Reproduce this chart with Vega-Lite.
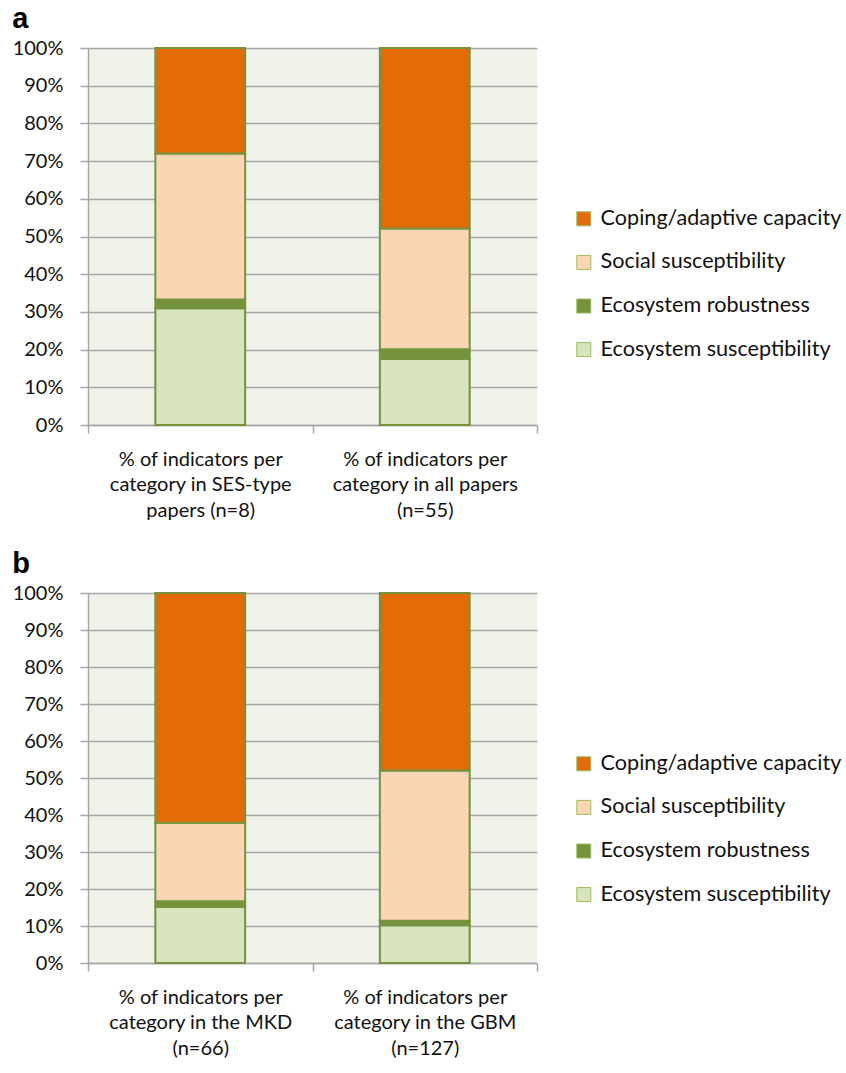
{
  "$schema": "https://vega.github.io/schema/vega-lite/v6.json",
  "background": "white",
  "padding": {"left": 12, "top": 5, "right": 0, "bottom": 0},
  "spacing": 30,
  "config": {
    "font": "Lato",
    "view": {"fill": "#eff2e9", "stroke": null},
    "title": {"font": "Liberation Sans", "fontSize": 29, "fontWeight": "bold", "anchor": "start", "frame": "bounds", "color": "black", "offset": 0},
    "axis": {"labelFont": "Lato", "labelFontSize": 20, "labelColor": "#111", "domainColor": "#a6a6a6", "tickColor": "#a6a6a6", "gridColor": "#a6a6a6", "domainWidth": 1.5, "tickWidth": 1.5, "gridWidth": 1.5},
    "legend": {"labelFont": "Lato", "labelFontSize": 21.6, "labelColor": "#111", "padding": 0, "labelLimit": 0}
  },
  "datasets": {
    "a": [
      {"x": "% of indicators per|category in SES-type|papers (n=8)", "cat": "Ecosystem susceptibility", "v": 31.0, "o": 1},
      {"x": "% of indicators per|category in SES-type|papers (n=8)", "cat": "Ecosystem robustness", "v": 2.3, "o": 2},
      {"x": "% of indicators per|category in SES-type|papers (n=8)", "cat": "Social susceptibility", "v": 38.7, "o": 3},
      {"x": "% of indicators per|category in SES-type|papers (n=8)", "cat": "Coping/adaptive capacity", "v": 28.0, "o": 4},
      {"x": "% of indicators per|category in all papers|(n=55)", "cat": "Ecosystem susceptibility", "v": 17.6, "o": 1},
      {"x": "% of indicators per|category in all papers|(n=55)", "cat": "Ecosystem robustness", "v": 2.5, "o": 2},
      {"x": "% of indicators per|category in all papers|(n=55)", "cat": "Social susceptibility", "v": 32.0, "o": 3},
      {"x": "% of indicators per|category in all papers|(n=55)", "cat": "Coping/adaptive capacity", "v": 47.9, "o": 4}
    ],
    "b": [
      {"x": "% of indicators per|category in the MKD|(n=66)", "cat": "Ecosystem susceptibility", "v": 15.2, "o": 1},
      {"x": "% of indicators per|category in the MKD|(n=66)", "cat": "Ecosystem robustness", "v": 1.5, "o": 2},
      {"x": "% of indicators per|category in the MKD|(n=66)", "cat": "Social susceptibility", "v": 21.2, "o": 3},
      {"x": "% of indicators per|category in the MKD|(n=66)", "cat": "Coping/adaptive capacity", "v": 62.1, "o": 4},
      {"x": "% of indicators per|category in the GBM|(n=127)", "cat": "Ecosystem susceptibility", "v": 10.2, "o": 1},
      {"x": "% of indicators per|category in the GBM|(n=127)", "cat": "Ecosystem robustness", "v": 1.2, "o": 2},
      {"x": "% of indicators per|category in the GBM|(n=127)", "cat": "Social susceptibility", "v": 40.6, "o": 3},
      {"x": "% of indicators per|category in the GBM|(n=127)", "cat": "Coping/adaptive capacity", "v": 48.0, "o": 4}
    ]
  },
  "resolve": {"scale": {"color": "independent", "x": "independent"}, "legend": {"color": "independent"}},
  "vconcat": [
    {
      "title": {"text": "a"},
      "width": 449,
      "height": 377,
      "data": {"name": "a"},
      "mark": {"type": "bar", "stroke": "#76923c", "strokeWidth": 2, "width": {"band": 0.4}},
      "encoding": {
        "x": {"field": "x", "type": "nominal", "sort": null, "scale": {"paddingInner": 0, "paddingOuter": 0},
          "axis": {"title": null, "labelAngle": 0, "tickBand": "extent", "grid": false, "tickSize": 8, "labelPadding": 16, "labelLimit": 0, "labelExpr": "isValid(datum.value) ? split(datum.value, '|') : ''", "labelLineHeight": 25.5, "domain": true}},
        "y": {"field": "v", "type": "quantitative", "stack": "normalize", "scale": {"domain": [0, 1]},
          "axis": {"title": null, "values": [0, 0.1, 0.2, 0.3, 0.4, 0.5, 0.6, 0.7, 0.8, 0.9, 1], "format": ".0%", "tickSize": 8, "labelPadding": 17}},
        "color": {"field": "cat", "type": "nominal",
          "scale": {"domain": ["Coping/adaptive capacity", "Social susceptibility", "Ecosystem robustness", "Ecosystem susceptibility"], "range": ["#e36c09", "#fcd5b5", "#76923c", "#d7e4bd"]},
          "legend": {"title": null, "orient": "none", "legendX": 485, "legendY": 160, "symbolType": "square", "symbolSize": 196, "symbolStrokeWidth": 1, "symbolStrokeColor": "#9bbb59", "rowPadding": 20.6, "labelOffset": 6}},
        "order": {"field": "o", "type": "quantitative"}
      }
    },
    {
      "title": {"text": "b"},
      "width": 449,
      "height": 370,
      "data": {"name": "b"},
      "mark": {"type": "bar", "stroke": "#76923c", "strokeWidth": 2, "width": {"band": 0.4}},
      "encoding": {
        "x": {"field": "x", "type": "nominal", "sort": null, "scale": {"paddingInner": 0, "paddingOuter": 0},
          "axis": {"title": null, "labelAngle": 0, "tickBand": "extent", "grid": false, "tickSize": 8, "labelPadding": 16, "labelLimit": 0, "labelExpr": "isValid(datum.value) ? split(datum.value, '|') : ''", "labelLineHeight": 25.5, "domain": true}},
        "y": {"field": "v", "type": "quantitative", "stack": "normalize", "scale": {"domain": [0, 1]},
          "axis": {"title": null, "values": [0, 0.1, 0.2, 0.3, 0.4, 0.5, 0.6, 0.7, 0.8, 0.9, 1], "format": ".0%", "tickSize": 8, "labelPadding": 17}},
        "color": {"field": "cat", "type": "nominal",
          "scale": {"domain": ["Coping/adaptive capacity", "Social susceptibility", "Ecosystem robustness", "Ecosystem susceptibility"], "range": ["#e36c09", "#fcd5b5", "#76923c", "#d7e4bd"]},
          "legend": {"title": null, "orient": "none", "legendX": 485, "legendY": 160, "symbolType": "square", "symbolSize": 196, "symbolStrokeWidth": 1, "symbolStrokeColor": "#9bbb59", "rowPadding": 20.6, "labelOffset": 6}},
        "order": {"field": "o", "type": "quantitative"}
      }
    }
  ]
}
